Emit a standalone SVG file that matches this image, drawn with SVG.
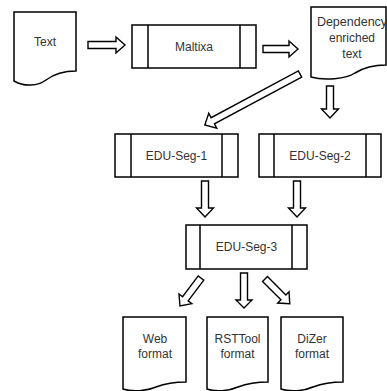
<svg xmlns="http://www.w3.org/2000/svg" width="387" height="391" viewBox="0 0 387 391">
<style>
.s{fill:#fff;stroke:#000;stroke-width:1.5;stroke-linejoin:miter}
.a{fill:#fff;stroke:#000;stroke-width:1.4}
.t{font-family:"Liberation Sans",Arial,sans-serif;font-size:12px;fill:#333;text-anchor:middle;dominant-baseline:central}
</style>
<rect width="387" height="391" fill="#fff"/>
<g id="connectors">
<polygon class="a" points="88,41.5 116,41.5 116,37 125,45 116,53 116,48.5 88,48.5"/>
<polygon class="a" points="263,45.5 289,45.5 289,41 298,49 289,57 289,52.5 263,52.5"/>
<polygon class="a" points="326.5,86 333.5,86 333.5,109 338.5,109 330,118 321.5,109 326.5,109"/>
<polygon class="a" transform="translate(300,74) rotate(151.8)" points="0,-3.5 99,-3.5 99,-8.5 108,0 99,8.5 99,3.5 0,3.5"/>
<polygon class="a" points="201.5,181 208.5,181 208.5,208 213.5,208 205,217 196.5,208 201.5,208"/>
<polygon class="a" points="293.5,181 300.5,181 300.5,208 305.5,208 297,217 288.5,208 293.5,208"/>
<polygon class="a" points="240.5,273 247.5,273 247.5,300 252,300 244,308 236,300 240.5,300"/>
<polygon class="a" transform="translate(201,278) rotate(126.9)" points="0,-3.5 26,-3.5 26,-8 35,0 26,8 26,3.5 0,3.5"/>
<polygon class="a" transform="translate(265,279) rotate(45)" points="0,-3.5 26,-3.5 26,-8 35,0 26,8 26,3.5 0,3.5"/>
</g>
<g id="text-doc">
<path class="s" d="M14,12 H76 V71 C62,71 54,74 46,80 C38,86 24,87 14,81 Z"/>
<text class="t" x="45" y="42">Text</text>
</g>
<g id="maltixa">
<rect class="s" x="132" y="25" width="124" height="43"/>
<line class="s" x1="148" y1="25" x2="148" y2="68"/>
<line class="s" x1="240" y1="25" x2="240" y2="68"/>
<text class="t" x="194" y="46.5">Maltixa</text>
</g>
<g id="dep-doc">
<path class="s" d="M311,7 H386 V65 C372,65 363,68 355,73 C346,79 324,81 311,77 Z"/>
<text class="t" x="352" y="22" style="font-size:12.5px">Dependency</text>
<text class="t" x="352" y="38">enriched</text>
<text class="t" x="352" y="53.5">text</text>
</g>
<g id="edu-seg-1">
<rect class="s" x="115" y="134" width="123" height="43"/>
<line class="s" x1="131" y1="134" x2="131" y2="177"/>
<line class="s" x1="222" y1="134" x2="222" y2="177"/>
<text class="t" x="176.5" y="155.5">EDU-Seg-1</text>
</g>
<g id="edu-seg-2">
<rect class="s" x="259" y="134" width="122" height="43"/>
<line class="s" x1="274" y1="134" x2="274" y2="177"/>
<line class="s" x1="366" y1="134" x2="366" y2="177"/>
<text class="t" x="320" y="155.5">EDU-Seg-2</text>
</g>
<g id="edu-seg-3">
<rect class="s" x="186" y="225" width="121" height="44"/>
<line class="s" x1="200" y1="225" x2="200" y2="269"/>
<line class="s" x1="292" y1="225" x2="292" y2="269"/>
<text class="t" x="246.5" y="247">EDU-Seg-3</text>
</g>
<g id="web-doc">
<path class="s" d="M123,317 H186 V382 C172,382 164,384 156,387 C147,391 132,392 123,389 Z"/>
<text class="t" x="155" y="339">Web</text>
<text class="t" x="155" y="354">format</text>
</g>
<g id="rsttool-doc">
<path class="s" d="M207,317 H268 V382 C254,382 246,384 238,387 C229,391 215,392 207,389 Z"/>
<text class="t" x="237.5" y="339">RSTTool</text>
<text class="t" x="237.5" y="354">format</text>
</g>
<g id="dizer-doc">
<path class="s" d="M281,317 H343 V382 C329,382 321,384 313,387 C304,391 290,392 281,389 Z"/>
<text class="t" x="312" y="339">DiZer</text>
<text class="t" x="312" y="354">format</text>
</g>
</svg>
